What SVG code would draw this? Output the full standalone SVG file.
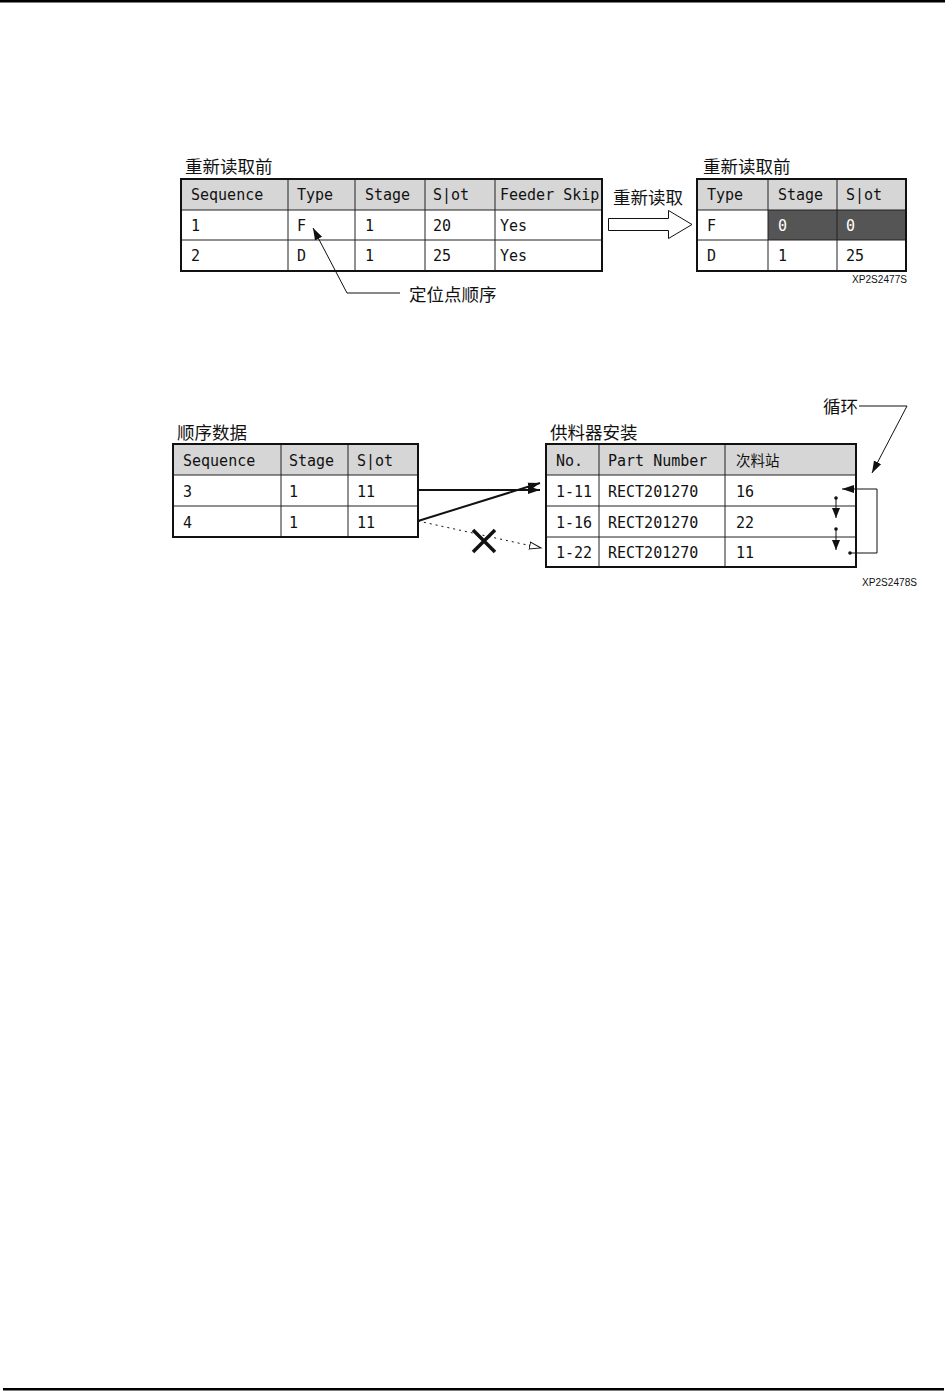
<svg xmlns="http://www.w3.org/2000/svg" width="949" height="1391" viewBox="0 0 949 1391">
<defs>
<style>
.t{font-family:"DejaVu Sans Mono","Liberation Mono",monospace;font-size:15px;fill:#111}
.w{fill:#fff}
.cj{font-family:"Noto Sans CJK SC","Noto Sans",sans-serif;font-size:17.5px;fill:#111}
.cjs{font-family:"Noto Sans CJK SC","Noto Sans",sans-serif;font-size:14.5px;fill:#111}
.sm{font-family:"Liberation Sans",Arial,sans-serif;font-size:10px;fill:#111}
.outer{fill:none;stroke:#111;stroke-width:2}
.grid{stroke:#222;stroke-width:1;fill:none}
.hdr{fill:#d6d6d6}
.dark{fill:#555}
.ln{fill:none;stroke:#111;stroke-width:1}
.ln2{fill:none;stroke:#111;stroke-width:2}
</style>
<marker id="af" markerUnits="userSpaceOnUse" markerWidth="14" markerHeight="10" refX="12" refY="4" orient="auto" viewBox="0 0 14 8">
<path d="M0,0 L12,4 L0,8 Z" fill="#111"/>
</marker>
<marker id="afs" markerUnits="userSpaceOnUse" markerWidth="12" markerHeight="10" refX="10" refY="4" orient="auto" viewBox="0 0 12 8">
<path d="M0,0 L10,4 L0,8 Z" fill="#111"/>
</marker>
<marker id="ah" markerUnits="userSpaceOnUse" markerWidth="14" markerHeight="10" refX="12" refY="4" orient="auto" viewBox="0 0 14 8">
<path d="M0.5,0.5 L12,4 L0.5,7.5 Z" fill="#fff" stroke="#111" stroke-width="1"/>
</marker>
</defs>
<rect width="949" height="1391" fill="#fff"/>
<rect x="0" y="0" width="945" height="2.5" fill="#000"/>
<rect x="3" y="1388" width="941" height="2.5" fill="#000"/>

<g id="table1">
<text class="cj" x="185" y="173">重新读取前</text>
<rect class="hdr" x="181" y="179" width="421" height="31"/>
<path class="grid" d="M181,210H602M181,240H602M288,179V271M355,179V271M425,179V271M495,179V271"/>
<rect class="outer" x="181" y="179" width="421" height="92"/>
<text class="t" x="191" y="200">Sequence</text>
<text class="t" x="297" y="200">Type</text>
<text class="t" x="365" y="200">Stage</text>
<text class="t" x="433" y="200">S|ot</text>
<text class="t" x="500" y="200">Feeder Skip</text>
<text class="t" x="191" y="231">1</text>
<text class="t" x="297" y="231">F</text>
<text class="t" x="365" y="231">1</text>
<text class="t" x="433" y="231">20</text>
<text class="t" x="500" y="231">Yes</text>
<text class="t" x="191" y="261">2</text>
<text class="t" x="297" y="261">D</text>
<text class="t" x="365" y="261">1</text>
<text class="t" x="433" y="261">25</text>
<text class="t" x="500" y="261">Yes</text>
</g>

<g id="label-locate">
<text class="cj" x="409" y="301">定位点顺序</text>
</g>

<g id="reread-arrow">
<path d="M608.5,218.5H668.5V210.5L692,224.5L668.5,238.5V230.5H608.5Z" fill="#fff" stroke="#111" stroke-width="1"/>
<text class="cj" x="613" y="204">重新读取</text>
</g>

<g id="table2">
<text class="cj" x="703" y="173">重新读取前</text>
<rect class="hdr" x="697" y="179" width="209" height="31"/>
<rect class="dark" x="768" y="210" width="138" height="30"/>
<path class="grid" d="M697,210H906M697,240H906M768,179V271M837,179V271"/>
<rect class="outer" x="697" y="179" width="209" height="92"/>
<text class="t" x="707" y="200">Type</text>
<text class="t" x="778" y="200">Stage</text>
<text class="t" x="846" y="200">S|ot</text>
<text class="t" x="707" y="231">F</text>
<text class="t w" x="778" y="231">0</text>
<text class="t w" x="846" y="231">0</text>
<text class="t" x="707" y="261">D</text>
<text class="t" x="778" y="261">1</text>
<text class="t" x="846" y="261">25</text>
<text class="sm" x="852" y="283" textLength="55" lengthAdjust="spacingAndGlyphs">XP2S2477S</text>
</g>

<g id="table3">
<text class="cj" x="177" y="439">顺序数据</text>
<rect class="hdr" x="173" y="444" width="245" height="31"/>
<path class="grid" d="M173,475H418M173,506H418M281,444V537M348,444V537"/>
<rect class="outer" x="173" y="444" width="245" height="93"/>
<text class="t" x="183" y="466">Sequence</text>
<text class="t" x="289" y="466">Stage</text>
<text class="t" x="357" y="466">S|ot</text>
<text class="t" x="183" y="497">3</text>
<text class="t" x="289" y="497">1</text>
<text class="t" x="357" y="497">11</text>
<text class="t" x="183" y="528">4</text>
<text class="t" x="289" y="528">1</text>
<text class="t" x="357" y="528">11</text>
</g>

<g id="table4">
<text class="cj" x="550" y="439">供料器安装</text>
<rect class="hdr" x="546" y="444" width="310" height="31"/>
<path class="grid" d="M546,475H856M546,506H856M546,537H856M599,444V567M725,444V567"/>
<rect class="outer" x="546" y="444" width="310" height="123"/>
<text class="t" x="556" y="466">No.</text>
<text class="t" x="608" y="466">Part Number</text>
<text class="cjs" x="736" y="466">次料站</text>
<text class="t" x="556" y="497">1-11</text>
<text class="t" x="608" y="497">RECT201270</text>
<text class="t" x="736" y="497">16</text>
<text class="t" x="556" y="528">1-16</text>
<text class="t" x="608" y="528">RECT201270</text>
<text class="t" x="736" y="528">22</text>
<text class="t" x="556" y="558">1-22</text>
<text class="t" x="608" y="558">RECT201270</text>
<text class="t" x="736" y="558">11</text>
<text class="sm" x="862" y="586" textLength="55" lengthAdjust="spacingAndGlyphs">XP2S2478S</text>
</g>

<g id="label-cycle">
<text class="cj" x="823" y="413">循环</text>
</g>

<g id="connectors">
<path class="ln" d="M400,293H347L313,228" marker-end="url(#af)"/>
<path class="ln2" d="M418,490H540" marker-end="url(#af)"/>
<path class="ln2" d="M418,521L540,483" marker-end="url(#af)"/>
<path class="ln" d="M418,521L541,548" stroke-dasharray="2,4" marker-end="url(#ah)"/>
<path d="M473,530L495,552M495,530L473,552" stroke="#111" stroke-width="3.5" fill="none"/>
<path class="ln" d="M859,406H907L872,473" marker-end="url(#af)"/>
<path class="ln" d="M850,553H877V489H842" marker-end="url(#af)"/>
<circle cx="850" cy="553" r="1.8" fill="#111"/>
<path class="ln" d="M836,498V518" marker-end="url(#afs)"/>
<circle cx="836" cy="498" r="1.8" fill="#111"/>
<path class="ln" d="M836,529V550" marker-end="url(#afs)"/>
<circle cx="836" cy="529" r="1.8" fill="#111"/>
</g>
</svg>
